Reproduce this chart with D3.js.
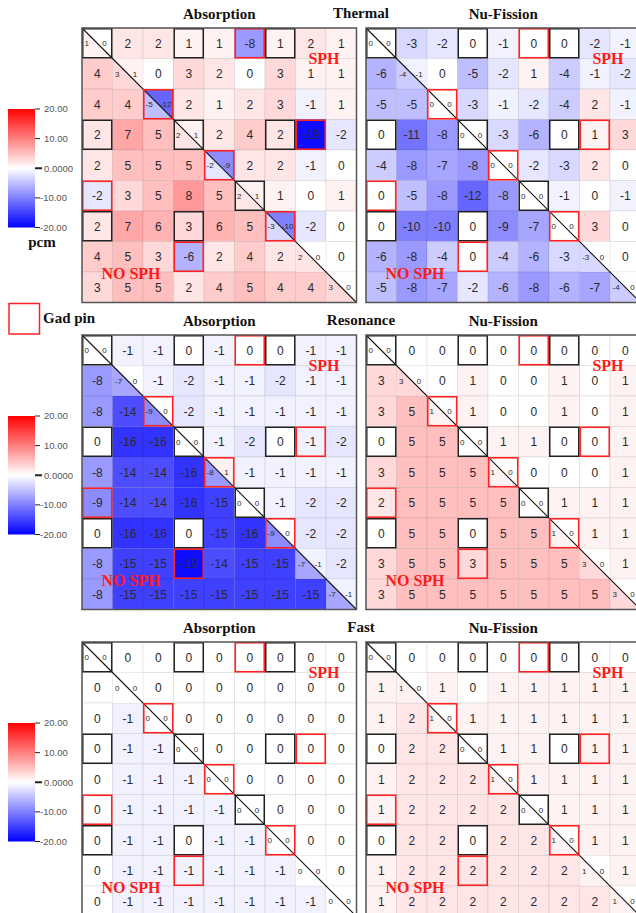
<!DOCTYPE html>
<html>
<head>
<meta charset="utf-8">
<script src="https://cdn.jsdelivr.net/npm/d3@7"></script>
<style>
    body { margin: 0; background: #fff; overflow: hidden; }
    svg { display: block; }
</style>
</head>
<body>
<div id="chart"></div>
<script>
/*
    SPH vs NO SPH pin reaction rate differences (pcm), 9x9 quarter assembly
    upper triangle = SPH, lower triangle = NO SPH, diagonal cells hold both
 */

// energy groups (rows of panels) and reactions (columns of panels)
const groups = ["Thermal", "Resonance", "Fast"];
const reactions = ["Absorption", "Nu-Fission"];
const colorTicks = [20, 10, 0, -10, -20];
const colorTickLabels = ["20.00", "10.00", "0.0000", "-10.00", "-20.00"];

// guide tube / instrument cells and gad pins, [row, col]
const blackCells = [[0,0],[0,3],[0,6],[3,0],[3,3],[3,6],[6,0],[6,3],[5,5]];
const gadCells = [[0,5],[5,0],[2,2],[3,7],[7,3],[4,4],[6,6]];

// off-diagonal values, diagonal left as null
const thermalAbs = [
    [null, 2, 2, 1, 1, -8, 1, 2, 1],
    [4, null, 0, 3, 2, 0, 3, 1, 1],
    [4, 4, null, 2, 1, 2, 3, -1, 1],
    [2, 7, 5, null, 2, 4, 2, -19, -2],
    [2, 5, 5, 5, null, 2, 2, -1, 0],
    [-2, 3, 5, 8, 5, null, 1, 0, 1],
    [2, 7, 6, 3, 6, 5, null, -2, 0],
    [4, 5, 3, -6, 2, 4, 2, null, 0],
    [3, 5, 5, 2, 4, 5, 4, 4, null]
];
// diagonal pairs [NO SPH, SPH]
const thermalAbsDiag = [[1,0],[3,1],[-5,-12],[2,1],[-2,-9],[2,1],[-3,-10],[2,0],[3,0]];

const thermalFis = [
    [null, -3, -2, 0, -1, 0, 0, -2, -1],
    [-6, null, 0, -5, -2, 1, -4, -1, -2],
    [-5, -5, null, -3, -1, -2, -4, 2, -1],
    [0, -11, -8, null, -3, -6, 0, 1, 3],
    [-4, -8, -7, -8, null, -2, -3, 2, 0],
    [0, -5, -8, -12, -8, null, -1, 0, -1],
    [0, -10, -10, 0, -9, -7, null, 3, 0],
    [-6, -8, -4, 0, -4, -6, -3, null, 0],
    [-5, -8, -7, -2, -6, -8, -6, -7, null]
];
const thermalFisDiag = [[0,0],[-4,-1],[0,0],[0,0],[0,0],[0,0],[0,0],[-3,0],[-4,0]];

const resonanceAbs = [
    [null, -1, -1, 0, -1, 0, 0, -1, -1],
    [-8, null, -1, -2, -1, -1, -2, -1, -1],
    [-8, -14, null, -2, -1, -1, -1, -1, -1],
    [0, -16, -16, null, -1, -2, 0, -1, -2],
    [-8, -14, -14, -16, null, -1, -1, -1, -1],
    [-9, -14, -14, -16, -15, null, -1, -2, -2],
    [0, -16, -16, 0, -15, -16, null, -2, -2],
    [-8, -15, -15, -19, -14, -15, -15, null, -2],
    [-8, -15, -15, -15, -15, -15, -15, -15, null]
];
const resonanceAbsDiag = [[0,0],[-7,0],[-9,0],[0,0],[-8,1],[0,0],[-9,0],[-7,-1],[-7,-1]];

const resonanceFis = [
    [null, 0, 0, 0, 0, 0, 0, 0, 0],
    [3, null, 0, 1, 0, 0, 1, 0, 1],
    [3, 5, null, 1, 0, 0, 1, 0, 1],
    [0, 5, 5, null, 1, 1, 0, 0, 1],
    [3, 5, 5, 5, null, 0, 0, 0, 1],
    [2, 5, 5, 5, 5, null, 1, 1, 1],
    [0, 5, 5, 0, 5, 5, null, 1, 1],
    [3, 5, 5, 3, 5, 5, 5, null, 1],
    [3, 5, 5, 5, 5, 5, 5, 5, null]
];
const resonanceFisDiag = [[0,0],[3,0],[1,0],[0,0],[1,0],[0,0],[1,0],[3,0],[3,0]];

const fastAbs = [
    [null, 0, 0, 0, 0, 0, 0, 0, 0],
    [0, null, 0, 0, 0, 0, 0, 0, 0],
    [0, -1, null, 0, 0, 0, 0, 0, 0],
    [0, -1, -1, null, 0, 0, 0, 0, 0],
    [0, -1, -1, -1, null, 0, 0, 0, 0],
    [0, -1, -1, -1, -1, null, 0, 0, 0],
    [0, -1, -1, 0, -1, -1, null, 0, 0],
    [0, -1, -1, -1, -1, -1, -1, null, 0],
    [0, -1, -1, -1, -1, -1, -1, -1, null]
];
const fastAbsDiag = [[0,0],[0,0],[0,0],[0,0],[0,0],[0,0],[0,0],[0,0],[0,0]];

const fastFis = [
    [null, 0, 0, 0, 0, 0, 0, 0, 0],
    [1, null, 1, 0, 1, 1, 1, 1, 1],
    [1, 2, null, 1, 1, 1, 1, 1, 1],
    [0, 2, 2, null, 1, 1, 0, 1, 1],
    [1, 2, 2, 2, null, 1, 1, 1, 1],
    [1, 2, 2, 2, 2, null, 1, 1, 1],
    [0, 2, 2, 0, 2, 2, null, 1, 1],
    [1, 2, 2, 2, 2, 2, 2, null, 1],
    [1, 2, 2, 2, 2, 2, 2, 2, null]
];
const fastFisDiag = [[0,0],[1,0],[1,0],[0,0],[1,0],[0,0],[1,0],[1,0],[1,0]];

const panels = [
    [[thermalAbs, thermalAbsDiag], [thermalFis, thermalFisDiag]],
    [[resonanceAbs, resonanceAbsDiag], [resonanceFis, resonanceFisDiag]],
    [[fastAbs, fastAbsDiag], [fastFis, fastFisDiag]]
];

const width = 636, height = 913;
const n = 9;
const gridSide = 274.5;
const gridLefts = [82, 366];
const gridTops = [28, 335, 642];
const serif = "'Liberation Serif', 'Times New Roman', serif";
const sans = "'Liberation Sans', Arial, sans-serif";

const svg = d3.select("#chart").append("svg")
    .attr("width", width)
    .attr("height", height);

const color = d3.scaleLinear()
    .domain([-20, 0, 20])
    .range(["#0000ff", "#ffffff", "#ff0000"])
    .clamp(true);

const band = d3.scaleBand().domain(d3.range(n)).range([0, gridSide]);
const c = band.bandwidth();

function drawPanel(g, values, diag) {
    // off-diagonal cells
    let cells = [];
    values.forEach(function(row, i) {
        row.forEach(function(v, j) {
            if (v !== null) cells.push({i: i, j: j, v: v});
        });
    });

    g.selectAll(".cell")
        .data(cells)
        .enter().append("rect")
        .attr("class", "cell")
        .attr("x", d => band(d.j))
        .attr("y", d => band(d.i))
        .attr("width", c)
        .attr("height", c)
        .style("fill", d => color(d.v))
        .style("stroke", "rgba(0,0,0,0.07)")
        .style("stroke-width", 1);

    // diagonal cells: lower-left triangle NO SPH, upper-right SPH
    let tri = [];
    diag.forEach(function(p, i) {
        tri.push({i: i, v: p[0], lower: true});
        tri.push({i: i, v: p[1], lower: false});
    });
    g.selectAll(".tri")
        .data(tri)
        .enter().append("path")
        .attr("class", "tri")
        .attr("d", function(d) {
            let x = band(d.i), y = band(d.i);
            if (d.lower) return "M" + x + "," + y + "L" + x + "," + (y + c) + "L" + (x + c) + "," + (y + c) + "Z";
            return "M" + x + "," + y + "L" + (x + c) + "," + y + "L" + (x + c) + "," + (y + c) + "Z";
        })
        .style("fill", d => color(d.v))
        .style("stroke", "rgba(0,0,0,0.07)")
        .style("stroke-width", 0.5);

    g.selectAll(".val")
        .data(cells)
        .enter().append("text")
        .attr("class", "val")
        .attr("x", d => band(d.j) + c / 2)
        .attr("y", d => band(d.i) + c / 2 + 4.3)
        .attr("text-anchor", "middle")
        .style("font-family", sans)
        .style("font-size", "12px")
        .style("fill", "#2a2a2a")
        .text(d => d.v);

    g.selectAll(".dval")
        .data(tri)
        .enter().append("text")
        .attr("class", "dval")
        .attr("x", d => d.lower ? band(d.i) + 2.5 : band(d.i) + c * 0.74)
        .attr("y", d => band(d.i) + c / 2 + 2.8)
        .attr("text-anchor", d => d.lower ? "start" : "middle")
        .style("font-family", sans)
        .style("font-size", "8px")
        .style("fill", "#2a2a2a")
        .text(d => d.v);

    // main diagonal line
    g.append("line")
        .attr("x1", 0).attr("y1", 0)
        .attr("x2", gridSide).attr("y2", gridSide)
        .style("stroke", "#111")
        .style("stroke-width", 1.1);

    g.selectAll(".guide")
        .data(blackCells)
        .enter().append("rect")
        .attr("class", "guide")
        .attr("x", d => band(d[1]) + 0.75)
        .attr("y", d => band(d[0]) + 0.75)
        .attr("width", c - 1.5)
        .attr("height", c - 1.5)
        .style("fill", "none")
        .style("stroke", "#222")
        .style("stroke-width", 1.5);

    g.selectAll(".gad")
        .data(gadCells)
        .enter().append("rect")
        .attr("class", "gad")
        .attr("x", d => band(d[1]) + 0.75)
        .attr("y", d => band(d[0]) + 0.75)
        .attr("width", c - 1.5)
        .attr("height", c - 1.5)
        .style("fill", "none")
        .style("stroke", "#f22")
        .style("stroke-width", 1.6);

    // frame
    g.append("rect")
        .attr("x", 0).attr("y", 0)
        .attr("width", gridSide).attr("height", gridSide)
        .style("fill", "none")
        .style("stroke", "#555")
        .style("stroke-width", 1.5);

    g.append("text")
        .attr("x", 242).attr("y", 36)
        .attr("text-anchor", "middle")
        .style("font-family", serif)
        .style("font-weight", "bold")
        .style("font-size", "16px")
        .style("fill", "#ff1a1a")
        .text("SPH");

    g.append("text")
        .attr("x", 49).attr("y", 250.5)
        .attr("text-anchor", "middle")
        .style("font-family", serif)
        .style("font-weight", "bold")
        .style("font-size", "16px")
        .style("fill", "#ff1a1a")
        .text("NO SPH");
}

// gradient for the colour bars
const grad = svg.append("defs").append("linearGradient")
    .attr("id", "cbar")
    .attr("x1", 0).attr("y1", 1).attr("x2", 0).attr("y2", 0);
d3.range(0, 1.0001, 0.05).forEach(function(t) {
    grad.append("stop")
        .attr("offset", t)
        .attr("stop-color", color(-20 + 40 * t));
});
svg.select("defs").append("clipPath")
    .attr("id", "labelClip")
    .append("rect")
    .attr("x", 0).attr("y", -10).attr("width", 65).attr("height", 140);

const barScale = d3.scaleLinear().domain([20, -20]).range([0, 118.5]);

function drawColorBar(top) {
    let g = svg.append("g").attr("transform", "translate(8," + top + ")");
    g.append("rect")
        .attr("x", 0).attr("y", 0)
        .attr("width", 27).attr("height", 118.5)
        .style("fill", "url(#cbar)");

    let ticks = g.append("g").attr("clip-path", "url(#labelClip)");
    colorTicks.forEach(function(v, k) {
        let y = barScale(v);
        ticks.append("line")
            .attr("x1", 27).attr("x2", v === 0 ? 34 : 32)
            .attr("y1", y).attr("y2", y)
            .style("stroke", "#222")
            .style("stroke-width", v === 0 ? 2 : 1);
        ticks.append("text")
            .attr("x", v < 0 ? 32 : 36)
            .attr("y", y + 3.3)
            .style("font-family", sans)
            .style("font-size", "9.5px")
            .style("fill", "#555")
            .text(colorTickLabels[k]);
    });
}

groups.forEach(function(grp, r) {
    let top = gridTops[r];
    reactions.forEach(function(rx, k) {
        let g = svg.append("g")
            .attr("transform", "translate(" + gridLefts[k] + "," + top + ")");
        drawPanel(g, panels[r][k][0], panels[r][k][1]);

        svg.append("text")
            .attr("x", gridLefts[k] + gridSide / 2)
            .attr("y", top - 9)
            .attr("text-anchor", "middle")
            .style("font-family", serif)
            .style("font-weight", "bold")
            .style("font-size", "15px")
            .style("fill", "#111")
            .text(rx);
    });

    svg.append("text")
        .attr("x", 361)
        .attr("y", top - 10)
        .attr("text-anchor", "middle")
        .style("font-family", serif)
        .style("font-weight", "bold")
        .style("font-size", "15px")
        .style("fill", "#111")
        .text(grp);

    drawColorBar(top + 81);
});

svg.append("text")
    .attr("x", 42).attr("y", 246.5)
    .attr("text-anchor", "middle")
    .style("font-family", serif)
    .style("font-weight", "bold")
    .style("font-size", "15px")
    .style("fill", "#111")
    .text("pcm");

// gad pin legend
svg.append("rect")
    .attr("x", 9).attr("y", 303.5)
    .attr("width", 30.5).attr("height", 30.5)
    .style("fill", "#fff")
    .style("stroke", "#f22")
    .style("stroke-width", 1.5);
svg.append("text")
    .attr("x", 43).attr("y", 323)
    .style("font-family", serif)
    .style("font-weight", "bold")
    .style("font-size", "15px")
    .style("fill", "#111")
    .text("Gad pin");
</script>
</body>
</html>
